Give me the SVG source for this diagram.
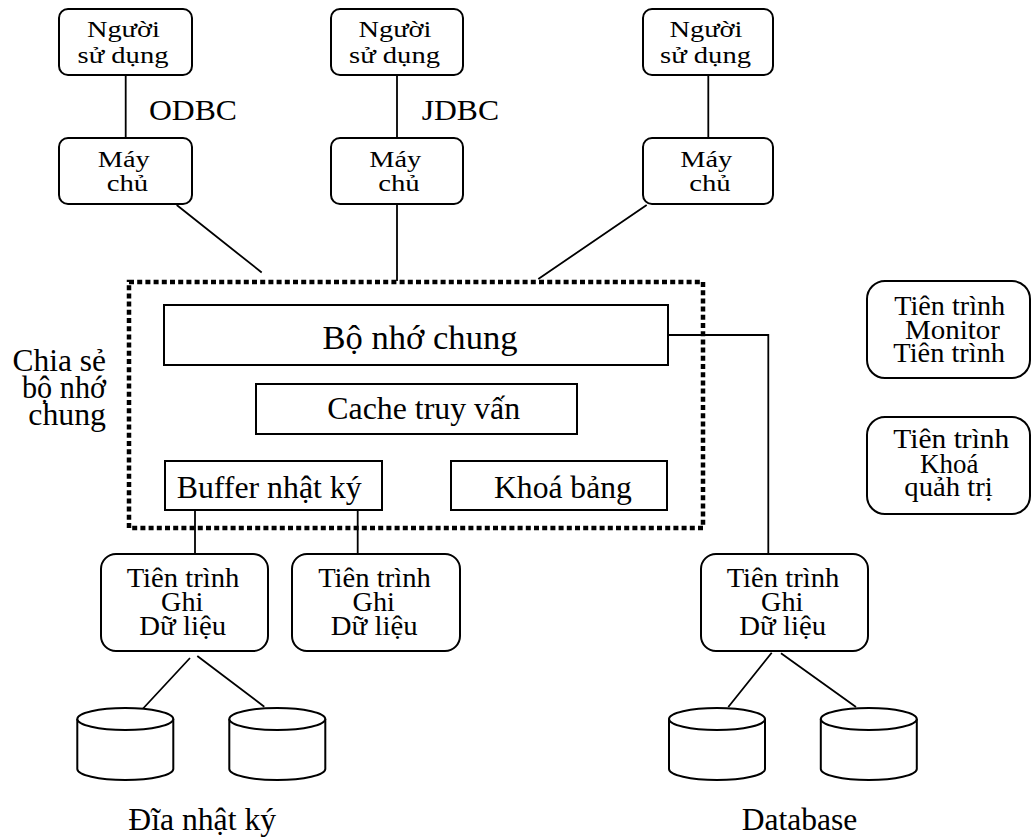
<svg xmlns="http://www.w3.org/2000/svg" width="1032" height="840" viewBox="0 0 1032 840">
<style>
.box{fill:#fff;stroke:#000;stroke-width:2}
.ln{fill:none;stroke:#000;stroke-width:1.8}
.dot{fill:none;stroke:#000;stroke-width:4.5;stroke-dasharray:5 3.2}
text{font-family:"Times New Roman","Liberation Serif",Tinos,serif;fill:#000;text-anchor:middle}
.s23{font-size:23px}.s28{font-size:28px}.s29{font-size:28px}.s31{font-size:31px}.s32{font-size:32px}.s34{font-size:34px}
</style>
<rect width="1032" height="840" fill="#fff"/>
<g id="connectors">
<path class="ln" d="M125.7 75V138M397 75V138M708.3 75V138"/>
<path class="ln" d="M176.7 205L261.7 272.5M397 204V281M646.7 205L538.3 279"/>
<path class="ln" d="M668 335H768.3V554"/>
<path class="ln" d="M195 510V554M357.7 510V554"/>
<path class="ln" d="M190 658L141.7 710M197.3 656L264.3 706.7"/>
<path class="ln" d="M771.7 652.7L728.3 707M781 653.3L856 707"/>
</g>
<g id="user1"><rect class="box" x="59" y="9" width="133" height="66" rx="9"/>
<text class="s23" x="123.4" y="37" textLength="73" lengthAdjust="spacingAndGlyphs">Người</text>
<text class="s23" x="123" y="63" textLength="91" lengthAdjust="spacingAndGlyphs">sử dụng</text></g>
<g id="user2"><rect class="box" x="331" y="9" width="132" height="66" rx="9"/>
<text class="s23" x="395" y="37" textLength="73" lengthAdjust="spacingAndGlyphs">Người</text>
<text class="s23" x="394.5" y="63" textLength="91" lengthAdjust="spacingAndGlyphs">sử dụng</text></g>
<g id="user3"><rect class="box" x="643" y="9" width="130" height="66" rx="9"/>
<text class="s23" x="706" y="37" textLength="73" lengthAdjust="spacingAndGlyphs">Người</text>
<text class="s23" x="705.5" y="63" textLength="91" lengthAdjust="spacingAndGlyphs">sử dụng</text></g>
<g id="server1"><rect class="box" x="59" y="138" width="133" height="66" rx="9"/>
<text class="s23" x="123.8" y="166.5" textLength="52" lengthAdjust="spacingAndGlyphs">Máy</text>
<text class="s23" x="127.5" y="190.5" textLength="41.5" lengthAdjust="spacingAndGlyphs">chủ</text></g>
<g id="server2"><rect class="box" x="331" y="138" width="132" height="66" rx="9"/>
<text class="s23" x="395.3" y="166.5" textLength="52" lengthAdjust="spacingAndGlyphs">Máy</text>
<text class="s23" x="399" y="190.5" textLength="41.5" lengthAdjust="spacingAndGlyphs">chủ</text></g>
<g id="server3"><rect class="box" x="643" y="138" width="130" height="66" rx="9"/>
<text class="s23" x="706.3" y="166.5" textLength="52" lengthAdjust="spacingAndGlyphs">Máy</text>
<text class="s23" x="710" y="190.5" textLength="41.5" lengthAdjust="spacingAndGlyphs">chủ</text></g>
<g id="label-odbc"><text style="font-size:30px;text-anchor:start" x="149" y="120" textLength="88" lengthAdjust="spacingAndGlyphs">ODBC</text></g>
<g id="label-jdbc"><text style="font-size:30px;text-anchor:start" x="421.7" y="120" textLength="77.3" lengthAdjust="spacingAndGlyphs">JDBC</text></g>
<g id="shared-memory"><rect class="dot" x="129" y="282" width="574" height="246"/></g>
<g id="label-shared"><text class="s31" style="text-anchor:end" x="106" y="370.5" textLength="93.5" lengthAdjust="spacingAndGlyphs">Chia sẻ</text>
<text class="s31" style="text-anchor:end" x="106" y="397.5" textLength="84" lengthAdjust="spacingAndGlyphs">bộ nhớ</text>
<text class="s31" style="text-anchor:end" x="106" y="424.5" textLength="77.7" lengthAdjust="spacingAndGlyphs">chung</text></g>
<g id="common-memory"><rect class="box" x="164" y="305" width="504" height="60"/>
<text class="s34" x="420" y="349" textLength="195" lengthAdjust="spacingAndGlyphs">Bộ nhớ chung</text></g>
<g id="query-cache"><rect class="box" x="256" y="384" width="321" height="50"/>
<text class="s32" x="423.7" y="419" textLength="192.7" lengthAdjust="spacingAndGlyphs">Cache truy vấn</text></g>
<g id="log-buffer"><rect class="box" x="165" y="461" width="217" height="49"/>
<text class="s32" x="269.2" y="498" textLength="185" lengthAdjust="spacingAndGlyphs">Buffer nhật ký</text></g>
<g id="table-lock"><rect class="box" x="451" y="461" width="216" height="49"/>
<text class="s32" x="562.9" y="498" textLength="137.7" lengthAdjust="spacingAndGlyphs">Khoá bảng</text></g>
<g id="monitor"><rect class="box" x="867" y="281" width="163" height="97" rx="18"/>
<text class="s29" x="949.7" y="315" textLength="111" lengthAdjust="spacingAndGlyphs">Tiên trình</text>
<text class="s29" x="952.5" y="339" textLength="95" lengthAdjust="spacingAndGlyphs">Monitor</text>
<text class="s29" x="949.2" y="361.7" textLength="111.7" lengthAdjust="spacingAndGlyphs">Tiên trình</text></g>
<g id="lock-admin"><rect class="box" x="867" y="417" width="163" height="97" rx="18"/>
<text class="s29" x="951.3" y="448.3" textLength="116" lengthAdjust="spacingAndGlyphs">Tiên trình</text>
<text class="s29" x="949.2" y="472.7" textLength="58.3" lengthAdjust="spacingAndGlyphs">Khoá</text>
<text class="s29" x="948.5" y="496" textLength="88.4" lengthAdjust="spacingAndGlyphs">quảh trị</text></g>
<g id="writer1"><rect class="box" x="101" y="554" width="167" height="97" rx="15"/>
<text class="s28" x="183" y="587.3" textLength="112.7" lengthAdjust="spacingAndGlyphs">Tiên trình</text>
<text class="s28" x="182.2" y="611" textLength="42.3" lengthAdjust="spacingAndGlyphs">Ghi</text>
<text class="s28" x="182.7" y="635" textLength="86.7" lengthAdjust="spacingAndGlyphs">Dữ liệu</text></g>
<g id="writer2"><rect class="box" x="292" y="554" width="168" height="97" rx="15"/>
<text class="s28" x="374.5" y="587.3" textLength="112.7" lengthAdjust="spacingAndGlyphs">Tiên trình</text>
<text class="s28" x="373.7" y="611" textLength="42.3" lengthAdjust="spacingAndGlyphs">Ghi</text>
<text class="s28" x="374.2" y="635" textLength="86.7" lengthAdjust="spacingAndGlyphs">Dữ liệu</text></g>
<g id="writer3"><rect class="box" x="701" y="554" width="167" height="97" rx="15"/>
<text class="s28" x="783" y="587.3" textLength="112.7" lengthAdjust="spacingAndGlyphs">Tiên trình</text>
<text class="s28" x="782.2" y="611" textLength="42.3" lengthAdjust="spacingAndGlyphs">Ghi</text>
<text class="s28" x="782.7" y="635" textLength="86.7" lengthAdjust="spacingAndGlyphs">Dữ liệu</text></g>
<g id="disk1"><path class="box" d="M77.3 719V769A48 11 0 0 0 173.3 769V719"/><ellipse class="box" cx="125.3" cy="719" rx="48" ry="11"/></g>
<g id="disk2"><path class="box" d="M229.3 719V769A48 11 0 0 0 325.3 769V719"/><ellipse class="box" cx="277.3" cy="719" rx="48" ry="11"/></g>
<g id="disk3"><path class="box" d="M669 719V769A48 11 0 0 0 765 769V719"/><ellipse class="box" cx="717" cy="719" rx="48" ry="11"/></g>
<g id="disk4"><path class="box" d="M820.8 719V769A48 11 0 0 0 916.8 769V719"/><ellipse class="box" cx="868.8" cy="719" rx="48" ry="11"/></g>
<g id="label-log-disk"><text class="s31" x="202.2" y="830" textLength="147.7" lengthAdjust="spacingAndGlyphs">Đĩa nhật ký</text></g>
<g id="label-database"><text class="s31" x="799.5" y="830" textLength="115.6" lengthAdjust="spacingAndGlyphs">Database</text></g>
</svg>
